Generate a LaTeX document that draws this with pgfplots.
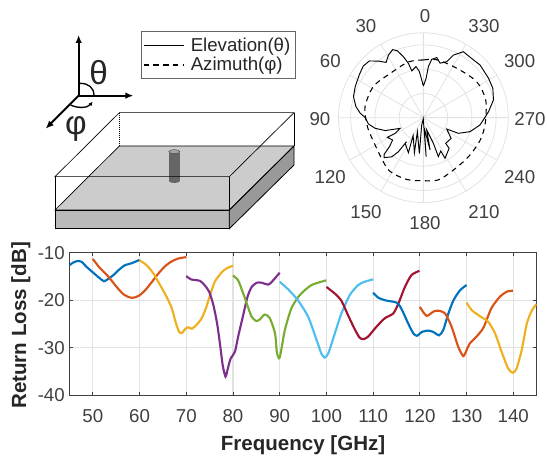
\documentclass[border=0pt]{standalone}
\usepackage{fontspec}
\setmainfont{Liberation Sans}
\usepackage{pgfplots}
\pgfplotsset{compat=1.18}
\usepackage{pgfplotstable}
\usepgfplotslibrary{polar}
\usetikzlibrary{arrows.meta}
\definecolor{mA}{HTML}{0072BD}
\definecolor{mB}{HTML}{D95319}
\definecolor{mC}{HTML}{EDB120}
\definecolor{mD}{HTML}{7E2F8E}
\definecolor{mE}{HTML}{77AC30}
\definecolor{mF}{HTML}{4DBEEE}
\definecolor{mG}{HTML}{A2142F}
\definecolor{txt}{HTML}{404040}
\definecolor{gridc}{HTML}{E2E2E2}
\pgfplotstableread{
a r
0 13.07
2.5 15.5
5 19.1
8.2 21.3
13.9 19.9
15.4 23.2
18.2 26.5
21.3 29.6
24.3 30.8
29 29.6
34 27.5
38.5 29.8
43.6 32.3
49.3 32.7
56.3 31.8
65.6 30.9
73.3 30.1
80.7 28.2
86 26.1
89.7 24.1
96.6 22.8
102.4 20.4
108.7 16.6
114.6 10.6
119 13.3
118.6 16.9
126 15.7
130.5 18.4
133 22.1
135.5 23.1
141 20.8
143.7 17.5
145 12.1
144.5 13
156.8 15.7
150.1 8.5
165.6 14.9
156.8 6.3
173.6 14.9
167 3.2
175 0.5
184 16.1
185 4.4
191.7 13.6
195 5.2
201.3 11.4
201 17.2
207.5 15.5
208 19
220 16.5
221 14
233.2 14.3
244 10.7
245.9 15.8
253.3 20.1
262.6 23.5
270.3 25.4
275.3 27
284.2 29.8
292.9 31.1
301.2 31.4
312.9 31.9
322.3 31.5
328.8 31.8
334.4 28.6
337.4 25
343 23.5
347.5 25.4
351.9 24.3
354.4 21.2
356.1 16.2
360 13.07
}\elev
\pgfplotstableread{
a r
0 23.8
15 23.8
37 22.8
58 24.3
79.3 24.5
95.7 23.5
106.4 23
134.3 24.1
148.3 26.1
164.9 26.4
180 26
193.5 26.4
209.8 24.9
229 24.6
248.5 25.2
264.8 25.6
285.8 26.7
304 26.5
326 24.6
347 24.5
360 23.8
}\azim
\begin{document}
\begin{tikzpicture}
\useasboundingbox (0,0) rectangle (410.25pt,-342pt);
\begin{scope}[x=0.25pt,y=-0.25pt]
\fill[black!20] (165,630)--(358,438)--(882,438)--(688,630)--cycle;
\filldraw[fill=black!27,draw=black,line width=0.6pt] (165,630) rectangle (688,686);
\filldraw[fill=black!40,draw=black,line width=0.6pt] (688,630)--(882,438)--(882,495)--(688,686)--cycle;
\draw[black,line width=0.5pt] (165,630)--(358,438)--(882,438)--(688,630)--cycle;
\fill[black!60] (507,458) rectangle (540,543);
\fill[black!60] (523,543) ellipse (16.5 and 6);
\filldraw[fill=black!35,draw=black!70,line width=0.4pt] (523,455) ellipse (16.5 and 6);
\draw[black,line width=0.5pt] (358,338)--(882,338)--(688,530)--(165,530)--cycle;
\draw[black,line width=0.5pt] (165,530)--(165,630) (688,530)--(688,630) (882,338)--(882,438);
\draw[black,line width=0.5pt,densely dotted] (358,338)--(358,438);
\draw[black,line width=1.5pt,-{Latex[length=6pt,width=5pt]}] (236,287)--(236,105);
\draw[black,line width=1.5pt,-{Latex[length=6pt,width=5pt]}] (236,287)--(400,287);
\draw[black,line width=1.5pt,-{Latex[length=6pt,width=5pt]}] (236,287)--(137,386);
\draw[black,line width=1pt] (240,250) .. controls (265,250) and (282,262) .. (282,287);
\draw[black,line width=1pt,-{Latex[length=3pt,width=3pt]}] (212,315) .. controls (232,325) and (262,325) .. (278,305);
\node[font=\fontsize{25}{25}\selectfont,text=black!85] at (296,217) {θ};
\node[font=\fontsize{25}{25}\selectfont,text=black!85] at (228,386) {φ};
\end{scope}
\begin{polaraxis}[
  at={(253.9pt,-151.9pt)},anchor=south west,
  scale only axis,width=127.3pt,height=127.3pt,
  xmin=0,xmax=360,ymin=0,ymax=35,clip=false,
  xtick={0,30,...,330},
  xticklabels={270,300,330,0,30,60,90,120,150,180,210,240},
  ytick={10,20,30},yticklabels={},
  grid=both,grid style={gridc,line width=0.6pt},
  axis line style={gridc,line width=0.6pt},
  major tick length=0pt,
  tick label style={font=\fontsize{14}{14}\selectfont,text=txt},
  xticklabel style={anchor=center,inner sep=0pt,
    xshift={(15.1pt+13pt*sin(\tick)*sin(\tick))*cos(\tick)+1.2pt},
    yshift={(14pt+12.5pt*cos(\tick)*cos(\tick))*sin(\tick)-1.1pt}},
  legend style={at={(axis description cs:-0.71,0.868)},anchor=center,draw=black!60,
    line width=0.4pt,font=\fontsize{14}{16}\selectfont,text=black!85,
    inner xsep=1.5pt,inner ysep=2.5pt,row sep=-1pt},
  legend cell align=left,
  legend image code/.code={\draw[#1] (0pt,0pt) -- (30pt,0pt);\path (33pt,0pt);},
]
\addplot[black,line width=0.7pt] table[x expr=\thisrow{a}+90,y=r] {\elev};
\addplot[black,line width=0.8pt,dash pattern=on 4pt off 3.4pt,smooth] table[x expr=\thisrow{a}+90,y=r] {\azim};
\legend{Elevation(θ),Azimuth(φ)}
\end{polaraxis}
\begin{axis}[
  at={(52.1pt,-296.3pt)},anchor=south west,
  scale only axis,width=350.4pt,height=106.7pt,
  xmin=45,xmax=145,ymin=-40,ymax=-10,
  xtick={50,60,...,140},ytick={-40,-30,-20,-10},
  yticklabels={-40,-30,-20,-10},
  grid=major,grid style={gridc,line width=0.8pt},
  axis line style={txt,line width=0.7pt},
  tick style={txt,line width=0.7pt},
  tick align=inside,major tick length=2.6pt,
  tick pos=both,
  tick label style={font=\fontsize{14}{14}\selectfont,text=txt},
  xticklabel style={yshift=-7pt},
  /pgf/number format/assume math mode=true,
  xlabel={Frequency [GHz]},ylabel={Return Loss [dB]},
  label style={font=\bfseries\fontsize{15.4}{15.4}\selectfont,text=black!85},
  xlabel style={at={(axis description cs:0.5,-0.35)},anchor=center},
  ylabel style={at={(axis description cs:-0.104,0.49)},anchor=center},
  every axis plot/.append style={line width=1.6pt,smooth,tension=0.4},
]
\addplot[mA] coordinates {(45,-12.6)(45.9,-12.0)(46.9,-11.7)(47.6,-11.9)(48.7,-13)(50.1,-14.2)(51.4,-15.3)(52.4,-16)(53.3,-15.5)(54.4,-14.7)(55.8,-13.4)(56.9,-12.6)(58.3,-12.2)(60,-11.5)};
\addplot[mB] coordinates {(50,-11.3)(51.5,-13.2)(53.3,-15)(55.1,-17.2)(56.5,-18.7)(57.6,-19.3)(58.5,-19.5)(59.8,-19.1)(61.2,-17.9)(62.6,-16.2)(64,-14.4)(65.5,-12.8)(66.9,-11.8)(68.3,-11.2)(70,-10.9)};
\addplot[mC] coordinates {(60,-11.6)(61.5,-12.6)(63,-14.4)(64.4,-16.8)(65.8,-19.3)(66.9,-21.7)(67.8,-24.9)(68.5,-26.7)(69.1,-26.9)(69.8,-26)(70.4,-25.7)(71.2,-26)(72.2,-25.2)(73.3,-23.8)(74.2,-21.7)(75.1,-18.9)(76.1,-16.1)(77.6,-14.1)(78.6,-13.3)(80,-12.7)};
\addplot[mD] coordinates {(70,-14.9)(71,-15.6)(72.9,-15.9)(73.9,-16.8)(74.9,-18.2)(75.8,-21)(76.6,-24.9)(77.2,-29.1)(77.8,-33.7)(78.4,-36.1)(78.9,-34.4)(79.5,-32.3)(80.4,-30.9)(81.1,-27.7)(82.1,-23.5)(83.1,-19.3)(84,-17.2)(85.1,-16.3)(86.1,-16.3)(87.6,-16.7)(88.6,-15.8)(90,-14.2)};
\addplot[mE] coordinates {(80,-14.8)(81.1,-15.8)(82.2,-18.6)(83.3,-21.7)(84,-23.5)(85,-24.4)(85.8,-24)(86.8,-23)(87.9,-23.8)(89,-27)(89.4,-31)(90,-32.1)(91.1,-26.3)(92.5,-21.7)(94.3,-18.9)(96.8,-16.8)(100,-15.8)};
\addplot[mF] coordinates {(90,-16.1)(91.8,-17.7)(93.9,-20)(96.1,-23.5)(97.9,-28.4)(98.9,-31.2)(99.6,-32.1)(100.4,-31.2)(101.8,-27)(103.2,-22.8)(105,-18.9)(106.8,-16.8)(108.2,-16.1)(110,-15.6)};
\addplot[mG] coordinates {(100,-17.2)(101.8,-18.6)(103.2,-20.1)(104.6,-23.1)(106,-26)(107.1,-27.9)(107.9,-28.2)(108.9,-27.7)(110.7,-25.6)(112.5,-23.8)(114.3,-22.8)(115.4,-20.7)(116.8,-17.2)(118.2,-14.7)(119.9,-13.8)};
\addplot[mA] coordinates {(110,-18.4)(111,-19.4)(112.5,-20)(115,-20.5)(116,-21.7)(117.5,-24.9)(118.6,-27)(119.4,-27.5)(120.4,-26.7)(121.8,-26.4)(122.9,-26.7)(124.1,-27.4)(125,-26.3)(126.1,-22.8)(127.2,-20)(128.6,-17.9)(130,-16.8)};
\addplot[mB] coordinates {(120,-21.4)(121.4,-23.3)(122.9,-22.4)(123.9,-22.2)(125.4,-22.8)(126.8,-25.6)(128.2,-29.8)(129.3,-31.8)(130,-30.5)(130.7,-29.1)(132.1,-27.7)(133.6,-25.8)(135.3,-21.7)(137.1,-19.3)(138.6,-18.2)(139.9,-18)};
\addplot[mC] coordinates {(130,-20.5)(131.1,-22.1)(132.9,-23.4)(134.6,-24.5)(136.1,-27)(137.5,-30.9)(138.9,-34.4)(139.9,-35.3)(140.7,-34.4)(141.8,-30.5)(142.9,-24.9)(144,-22.1)(145,-20.8)};
\end{axis}
\end{tikzpicture}
\end{document}
